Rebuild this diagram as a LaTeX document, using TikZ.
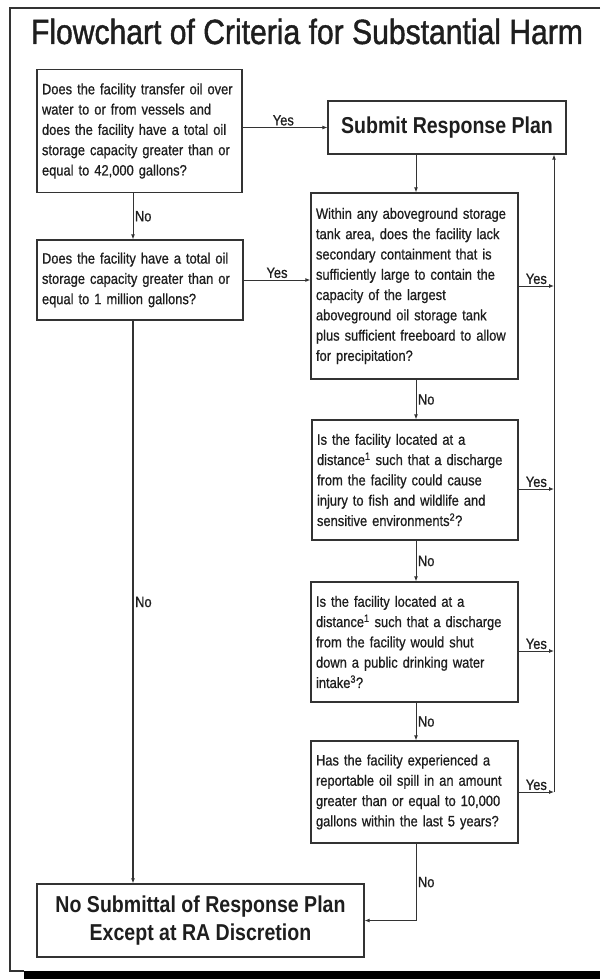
\documentclass[tikz,border=0pt]{standalone}
\usepackage{fontspec}
\setmainfont{Liberation Sans}
\newfontfamily\titlef{Liberation Sans}[FakeStretch=0.86,FakeBold=1.2]
\newfontfamily\bodyf{Liberation Sans}[FakeStretch=0.86,FakeBold=0.7]
\newfontfamily\termf{Liberation Sans}[FakeStretch=0.85]
\usetikzlibrary{arrows.meta,calc}
\definecolor{ink}{HTML}{1E1E1E}
\definecolor{edgec}{HTML}{333333}
\tikzset{
  qbox/.style={draw=edgec, line width=1.3pt, fill=white, inner xsep=5pt, inner ysep=0pt,
    font=\bodyf\fontsize{15}{20.3}\selectfont, text=ink, align=left},
  term/.style={draw=edgec, line width=1.3pt, fill=white, inner sep=0pt,
    font=\termf\bfseries\fontsize{23}{28.5}\selectfont, text=ink, align=center},
  conn/.style={draw=edgec, line width=0.9pt},
  arr/.style={conn, -{Latex[length=5pt,width=4pt]}},
  lab/.style={font=\bodyf\fontsize{15}{18}\selectfont, text=ink, inner sep=1.5pt}
}
\begin{document}
\begin{tikzpicture}[x=1pt,y=-1pt]
\useasboundingbox (0,0) rectangle (600,979);
% frame
\draw[edgec, line width=1.2pt] (600,8) -- (10,8) -- (10,971) -- (24,971);
\fill[black] (24,971) rectangle (600,979);
% title
\node[font=\titlef\fontsize{35}{40}\selectfont, text=ink, anchor=base, inner sep=0pt] (title) at (307,44) {Flowchart of Criteria for Substantial Harm};
% boxes
\node[qbox, text width=195pt, minimum width=205pt, minimum height=123pt] (q1) at (139.5,131)
 {Does the facility transfer oil over\\water to or from vessels and\\does the facility have a total oil\\storage capacity greater than or\\equal to 42,000 gallons?};
\node[term, minimum width=238pt, minimum height=53pt] (submit) at (447,127.5) {Submit Response Plan};
\node[qbox, text width=196pt, minimum width=206pt, minimum height=80pt] (q2) at (140,280)
 {Does the facility have a total oil\\storage capacity greater than or\\equal to 1 million gallons?};
\node[qbox, text width=197pt, minimum width=207pt, minimum height=186pt] (q3) at (414.5,286)
 {Within any aboveground storage\\tank area, does the facility lack\\secondary containment that is\\sufficiently large to contain the\\capacity of the largest\\aboveground oil storage tank\\plus sufficient freeboard to allow\\for precipitation?};
\node[qbox, text width=196pt, minimum width=206pt, minimum height=120pt] (q4) at (415,480)
 {Is the facility located at a\\distance\textsuperscript{1} such that a discharge\\from the facility could cause\\injury to fish and wildlife and\\sensitive environments\textsuperscript{2}?};
\node[qbox, text width=197pt, minimum width=207pt, minimum height=120pt] (q5) at (414.5,642)
 {Is the facility located at a\\distance\textsuperscript{1} such that a discharge\\from the facility would shut\\down a public drinking water\\intake\textsuperscript{3}?};
\node[qbox, text width=197pt, minimum width=207pt, minimum height=102pt] (q6) at (414.5,792)
 {Has the facility experienced a\\reportable oil spill in an amount\\greater than or equal to 10,000\\gallons within the last 5 years?};
\node[term, minimum width=327pt, minimum height=73pt] (final) at (200.5,920.5)
 {No Submittal of Response Plan\\Except at RA Discretion};
% guide coordinates
\coordinate (colL) at (133,0);
\coordinate (colR) at (416,0);
\coordinate (rail) at (554,0);
% connectors
\draw[arr] (submit.west -| q1.east) -- node[lab, above, pos=0.48] {Yes} (submit.west);
\draw[arr] (q1.south -| colL) -- node[lab, right] {No} (q2.north -| colL);
\draw[arr] (q2.east) -- node[lab, above] {Yes} (q2.east -| q3.west);
\draw[arr] (submit.south -| colR) -- (q3.north -| colR);
\draw[arr] (q3.south -| colR) -- node[lab, right] {No} (q4.north -| colR);
\draw[arr] (q4.south -| colR) -- node[lab, right] {No} (q5.north -| colR);
\draw[arr] (q5.south -| colR) -- node[lab, right] {No} (q6.north -| colR);
\draw[arr] (q3.east) -- node[lab, above] {Yes} (q3.east -| rail);
\draw[arr] ([yshift=-9pt]q4.east) -- node[lab, above] {Yes} ([yshift=-9pt]q4.east -| rail);
\draw[arr] ([yshift=-9pt]q5.east) -- node[lab, above] {Yes} ([yshift=-9pt]q5.east -| rail);
\draw[arr] (q6.east) -- node[lab, above] {Yes} (q6.east -| rail);
\draw[arr] (q6.east -| rail) -- (submit.south -| rail);
\draw[arr, line width=1.3pt] (q2.south -| colL) -- node[lab, right] {No} (final.north -| colL);
\draw[arr] (q6.south -| colR) -- node[lab, right] {No} (final.east -| colR) -- (final.east);
\end{tikzpicture}
\end{document}
